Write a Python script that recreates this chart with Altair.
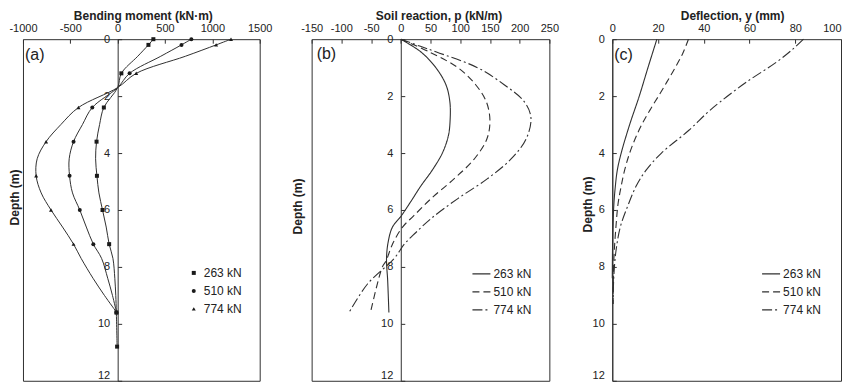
import altair as alt
import pandas as pd

SERIES = ["263 kN", "510 kN", "774 kN"]
DEPTH_TICKS = [0, 2, 4, 6, 8, 10, 12]
PANEL_LABELS = ["(a)", "(b)", "(c)"]

# (a) bending moment, measured points (markers)
bm_pts_depth = [0, 0.2, 1.2, 2.4, 3.6, 4.8, 6.0, 7.2, 9.6, 10.8]
bm_pts_263 = [377, 325, 39, -146, -223, -219, -160, -90, -14, -6]
bm_pts_510 = [778, 674, 126, -268, -466, -508, -400, -257, -12]
bm_pts_774 = [1197, 1040, 196, -414, -756, -861, -704, -466, -10]
# (a) bending moment, fitted curves
bm_crv_depth = [0, 0.2, 0.6, 1.2, 1.7, 2.4, 3.0, 3.6, 4.2, 4.8, 5.4, 6.0, 6.6, 7.2, 7.7, 8.4, 9.0, 9.6, 10.8]
bm_crv_263 = [377, 325, 212, 39, 0, -146, -191, -223, -233, -219, -198, -160, -121, -90, -50, -30, -20, -14, -6]
bm_crv_510 = [778, 674, 455, 126, 0, -268, -372, -466, -512, -508, -477, -400, -331, -257, -170, -105, -55, -12]
bm_crv_774 = [1197, 1040, 715, 196, 0, -414, -600, -756, -850, -861, -808, -704, -582, -466, -386, -260, -140, -10]

# (b) soil reaction
sr_depth_263 = [0, 0.45, 1.0, 1.6, 2.2, 2.85, 3.4, 4.0, 4.6, 5.15, 5.7, 6.2, 6.6, 7.1, 7.7, 8.5, 9.6]
sr_263 = [0, 34, 59, 76, 82.6, 83, 80, 70, 53, 34, 17, 1, -14, -21, -24, -22, -20]
sr_depth_510 = [0, 0.45, 1.0, 1.6, 2.2, 2.85, 3.5, 4.2, 4.9, 5.6, 6.2, 6.6, 7.2, 7.8, 8.0, 9.6]
sr_510 = [0, 48, 96, 126, 144, 150, 145, 124, 90, 51, 22, 3, -14, -25, -31, -51]
sr_depth_774 = [0, 0.25, 0.45, 1.0, 1.6, 2.2, 2.75, 3.5, 4.2, 4.9, 5.6, 6.3, 6.8, 7.2, 7.7, 8.6, 9.6]
sr_774 = [0, 33, 60, 129, 174, 208, 219, 211, 186, 146, 96, 51, 25, 6, -11, -56, -87]

# (c) deflection
df_depth_263 = [0, 1.0, 2.0, 3.0, 4.0, 4.6, 5.2, 5.8, 6.6, 7.4, 8.4]
df_263 = [19.5, 15.6, 11.8, 7.6, 3.9, 2.2, 1.3, 0.7, 0.3, 0.1, 0]
df_depth_510 = [0, 0.5, 1.0, 1.5, 2.0, 2.5, 3.0, 3.5, 4.0, 4.6, 5.2, 5.8, 6.6, 7.4, 8.2, 9.3]
df_510 = [33.3, 30.8, 27.5, 23.9, 20.2, 16.4, 12.9, 10.0, 7.6, 5.4, 3.8, 2.5, 1.6, 0.9, 0.5, 0.3]
df_depth_774 = [0, 0.33, 0.8, 1.5, 2.2, 2.6, 3.2, 4.0, 4.6, 5.15, 5.85, 6.6, 7.45, 8.3, 9.3]
df_774 = [83.6, 79.2, 71.9, 58.8, 47.2, 41.3, 33.5, 21.5, 14.8, 10.5, 6.8, 3.5, 1.6, 0.7, 0.3]


def long(items):
    rows = []
    for name, ds, vs in items:
        for d, v in zip(ds, vs):
            rows.append({"series": name, "depth": d, "value": v})
    return pd.DataFrame(rows)


bm_pts = long([(SERIES[0], bm_pts_depth, bm_pts_263),
               (SERIES[1], bm_pts_depth, bm_pts_510),
               (SERIES[2], bm_pts_depth, bm_pts_774)])
bm_crv = long([(SERIES[0], bm_crv_depth, bm_crv_263),
               (SERIES[1], bm_crv_depth, bm_crv_510),
               (SERIES[2], bm_crv_depth, bm_crv_774)])
sr = long([(SERIES[0], sr_depth_263, sr_263),
           (SERIES[1], sr_depth_510, sr_510),
           (SERIES[2], sr_depth_774, sr_774)])
dfl = long([(SERIES[0], df_depth_263, df_263),
            (SERIES[1], df_depth_510, df_510),
            (SERIES[2], df_depth_774, df_774)])

H = 342
INK = "#303030"
FONT = "Liberation Sans"
LBL = "'' + datum.value"


def y_enc(W, x0px, dx, ty):
    return alt.Y("depth:Q",
                 scale=alt.Scale(domain=[0, 12], reverse=True, nice=False, zero=False),
                 axis=alt.Axis(orient="right", offset=x0px - W, values=DEPTH_TICKS, tickSize=4,
                               labelAlign="right",
                               labelBaseline=alt.condition("datum.value == 12", alt.value("bottom"),
                                                           alt.value("middle")),
                               labelPadding=-12,
                               labelFlush=False, labelOverlap=False, grid=False, labelExpr=LBL,
                               title="Depth (m)", titleAngle=270, titleX=-(x0px + dx), titleY=ty,
                               titleAlign="center", titleBaseline="middle"))


def x_enc(domain, values, title, tx, last_right=False):
    extra = {}
    if last_right:
        extra["labelAlign"] = alt.condition("datum.value == %d" % values[-1], alt.value("right"),
                                            alt.value("center"))
    return alt.X("value:Q",
                 scale=alt.Scale(domain=domain, nice=False, zero=False),
                 axis=alt.Axis(orient="bottom", offset=-H, values=values, tickSize=4,
                               labelBaseline="middle", labelPadding=-15, labelFlush=False,
                               labelOverlap=False, grid=False, domain=False, labelExpr=LBL,
                               title=title, titleX=tx, titleY=-24, titleAlign="center",
                               titleBaseline="middle", **extra))


def panel_label(text, x, y):
    return alt.Chart(alt.Data(values=[{"lab": text}])).mark_text(
        align="left", baseline="middle", fontSize=16, font=FONT, color="#222"
    ).encode(x=alt.value(x), y=alt.value(y), text="lab:N")


def dash_legend(lx, ly):
    return alt.Legend(orient="none", legendX=lx, legendY=ly, title=None, symbolType="stroke",
                      symbolSize=324, symbolStrokeWidth=1.3, symbolStrokeColor=INK,
                      labelFontSize=12, labelFont=FONT, labelColor="#222", labelOffset=2,
                      rowPadding=2, padding=0)


def spacer(w):
    return alt.Chart(alt.Data(values=[{"s": ""}])).mark_text(opacity=0).encode(
        x=alt.value(0), y=alt.value(0), text="s:N"
    ).properties(width=w, height=H, view=alt.ViewBackground(stroke="transparent"))


# ---------- panel (a) ----------
WA = 237
XA0 = WA * 1000 / 2500
xa = x_enc([-1000, 1500], [-1000, -500, 0, 500, 1000, 1500], "Bending moment (kN·m)", 120)
ya = y_enc(WA, XA0, 8, 158)
a_lines = alt.Chart(bm_crv).mark_line(interpolate="catmull-rom", color=INK, strokeWidth=1).encode(
    x=xa, y=ya, detail="series:N", order="depth:Q")
a_pts = alt.Chart(bm_pts).mark_point(filled=True, opacity=1, size=16, color="#1a1a1a").encode(
    x=xa, y=ya,
    shape=alt.Shape("series:N", scale=alt.Scale(domain=SERIES, range=["square", "circle", "triangle-up"]),
                    legend=alt.Legend(orient="none", legendX=165, legendY=228, title=None,
                                      symbolFillColor="#1a1a1a", symbolStrokeColor="#1a1a1a",
                                      symbolSize=16, labelFontSize=12, labelFont=FONT,
                                      labelColor="#222", labelOffset=4, rowPadding=6, padding=0)))
panel_a = alt.layer(a_lines, a_pts, panel_label(PANEL_LABELS[0], 2, 16)).properties(width=WA, height=H)

# ---------- panel (b) ----------
WB = 238
XB0 = WB * 150 / 400
xb = x_enc([-150, 250], [-150, -100, -50, 0, 50, 100, 150, 200, 250], "Soil reaction, p  (kN/m)", 127)
yb = y_enc(WB, XB0, 14, 167)
b_lines = alt.Chart(sr).mark_line(interpolate="catmull-rom", color=INK, strokeWidth=1.1).encode(
    x=xb, y=yb, order="depth:Q",
    strokeDash=alt.StrokeDash("series:N",
                              scale=alt.Scale(domain=SERIES, range=[[1, 0], [7, 4], [10, 3, 2, 3]]),
                              legend=dash_legend(160, 225)))
panel_b = alt.layer(b_lines, panel_label(PANEL_LABELS[1], 5, 15)).properties(width=WB, height=H)

# ---------- panel (c) ----------
WC = 229
xc = x_enc([0, 100], [0, 20, 40, 60, 80, 100], "Deflection, y (mm)", 120, last_right=True)
yc = y_enc(WC, 0, 25, 165)
c_lines = alt.Chart(dfl).mark_line(interpolate="catmull-rom", color=INK, strokeWidth=1.1).encode(
    x=xc, y=yc, order="depth:Q",
    strokeDash=alt.StrokeDash("series:N",
                              scale=alt.Scale(domain=SERIES, range=[[1, 0], [7, 4], [10, 3, 2, 3]]),
                              legend=dash_legend(149, 225)))
panel_c = alt.layer(c_lines, panel_label(PANEL_LABELS[2], 2, 16)).properties(width=WC, height=H)

chart = alt.hconcat(panel_a, spacer(52), panel_b, spacer(63), panel_c,
                    spacing=0, bounds="flush").resolve_scale(
    x="independent", shape="independent", strokeDash="independent"
).properties(
    padding={"left": 0, "top": 0, "right": 0, "bottom": 0}
).configure(font=FONT).configure_view(stroke=INK, strokeWidth=1).configure_axis(
    labelFont=FONT, labelFontSize=11, labelColor="#222",
    titleFont=FONT, titleFontSize=12, titleFontWeight="bold", titleColor="#222",
    domainColor=INK, tickColor=INK, domainWidth=1, tickWidth=1
)

chart.save("out.html", embed_options={"renderer": "svg", "actions": False})
